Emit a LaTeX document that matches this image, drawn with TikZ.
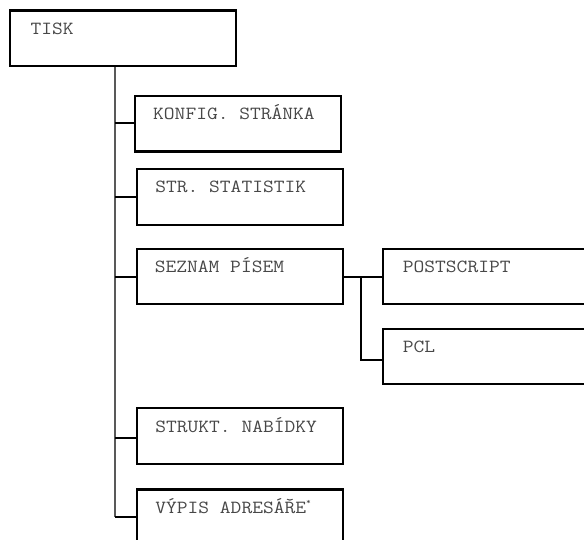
\documentclass[tikz,border=0pt]{standalone}
\usepackage{fontspec}
\newfontfamily\cour[FakeStretch=1.13]{Latin Modern Mono}
\usetikzlibrary{calc}
\begin{document}
\begin{tikzpicture}[x=1pt,y=-1pt,
  menubox/.style={draw=black, line width=2.2pt, minimum height=55.5pt, inner sep=0pt, anchor=north west},
  lbl/.style={anchor=base west, inner sep=0pt, font=\cour\fontsize{18.5}{20}\selectfont, text=black!72},
  trunkline/.style={draw=black!65, line width=1.3pt},
  branch/.style={draw=black, line width=2pt}]
\clip (0,0) rectangle (584,540);
\useasboundingbox (0,0) rectangle (584,540);
% boxes
\node[menubox, minimum width=226.5pt] (tisk) at (8.5,9.5) {};
\node[menubox, minimum width=206pt] (konfig) at (133.5,95) {};
\node[menubox, minimum width=206.5pt] (stat) at (135.7,168.3) {};
\node[menubox, minimum width=206pt] (seznam) at (135.7,247.7) {};
\node[menubox, minimum width=206pt] (strukt) at (135.7,407) {};
\node[menubox, minimum width=206pt] (vypis) at (135.7,488.3) {};
\node[menubox, minimum width=230pt] (post) at (381.7,247.7) {};
\node[menubox, minimum width=230pt] (pcl) at (381.7,327.7) {};
% labels
\node[lbl] (tiskt) at ($(tisk.north west)+(22,25.5)$) {TISK};
\node[lbl] (konfigt) at ($(konfig.north west)+(19.5,24.3)$) {KONFIG. STRÁNKA};
\node[lbl] (statt) at ($(stat.north west)+(19.5,24.5)$) {STR. STATISTIK};
\node[lbl] (seznamt) at ($(seznam.north west)+(19,25)$) {SEZNAM PÍSEM};
\node[lbl] (struktt) at ($(strukt.north west)+(19.5,25)$) {STRUKT. NABÍDKY};
\node[lbl] (vypist) at ($(vypis.north west)+(19.5,25)$) {VÝPIS ADRESÁŘE\raisebox{0.5em}{\fontsize{8}{8}\selectfont *}};
\node[lbl] (postt) at ($(post.north west)+(21,25)$) {POSTSCRIPT};
\node[lbl] (pclt) at ($(pcl.north west)+(21,25)$) {PCL};
% junctions
\coordinate (j1) at (115,123.3);
\coordinate (j2) at (115,197.3);
\coordinate (j3) at (115,276.7);
\coordinate (j4) at (115,437.7);
\coordinate (j5) at (115,517.3);
\coordinate (k1) at (361,276.7);
\coordinate (k2) at (361,360);
% connectors
\draw[trunkline] (tisk.south -| j1) -- (j5);
\draw[branch] (j1) -- (j1 -| konfig.west);
\draw[branch] (j2) -- (j2 -| stat.west);
\draw[branch] (j3) -- (j3 -| seznam.west);
\draw[branch] (j4) -- (j4 -| strukt.west);
\draw[branch] (j5) -- (j5 -| vypis.west);
\draw[branch] (k1 -| seznam.east) -- (k1 -| post.west);
\draw[branch] (k1) -- (k2) -- (k2 -| pcl.west);
\end{tikzpicture}
\end{document}
